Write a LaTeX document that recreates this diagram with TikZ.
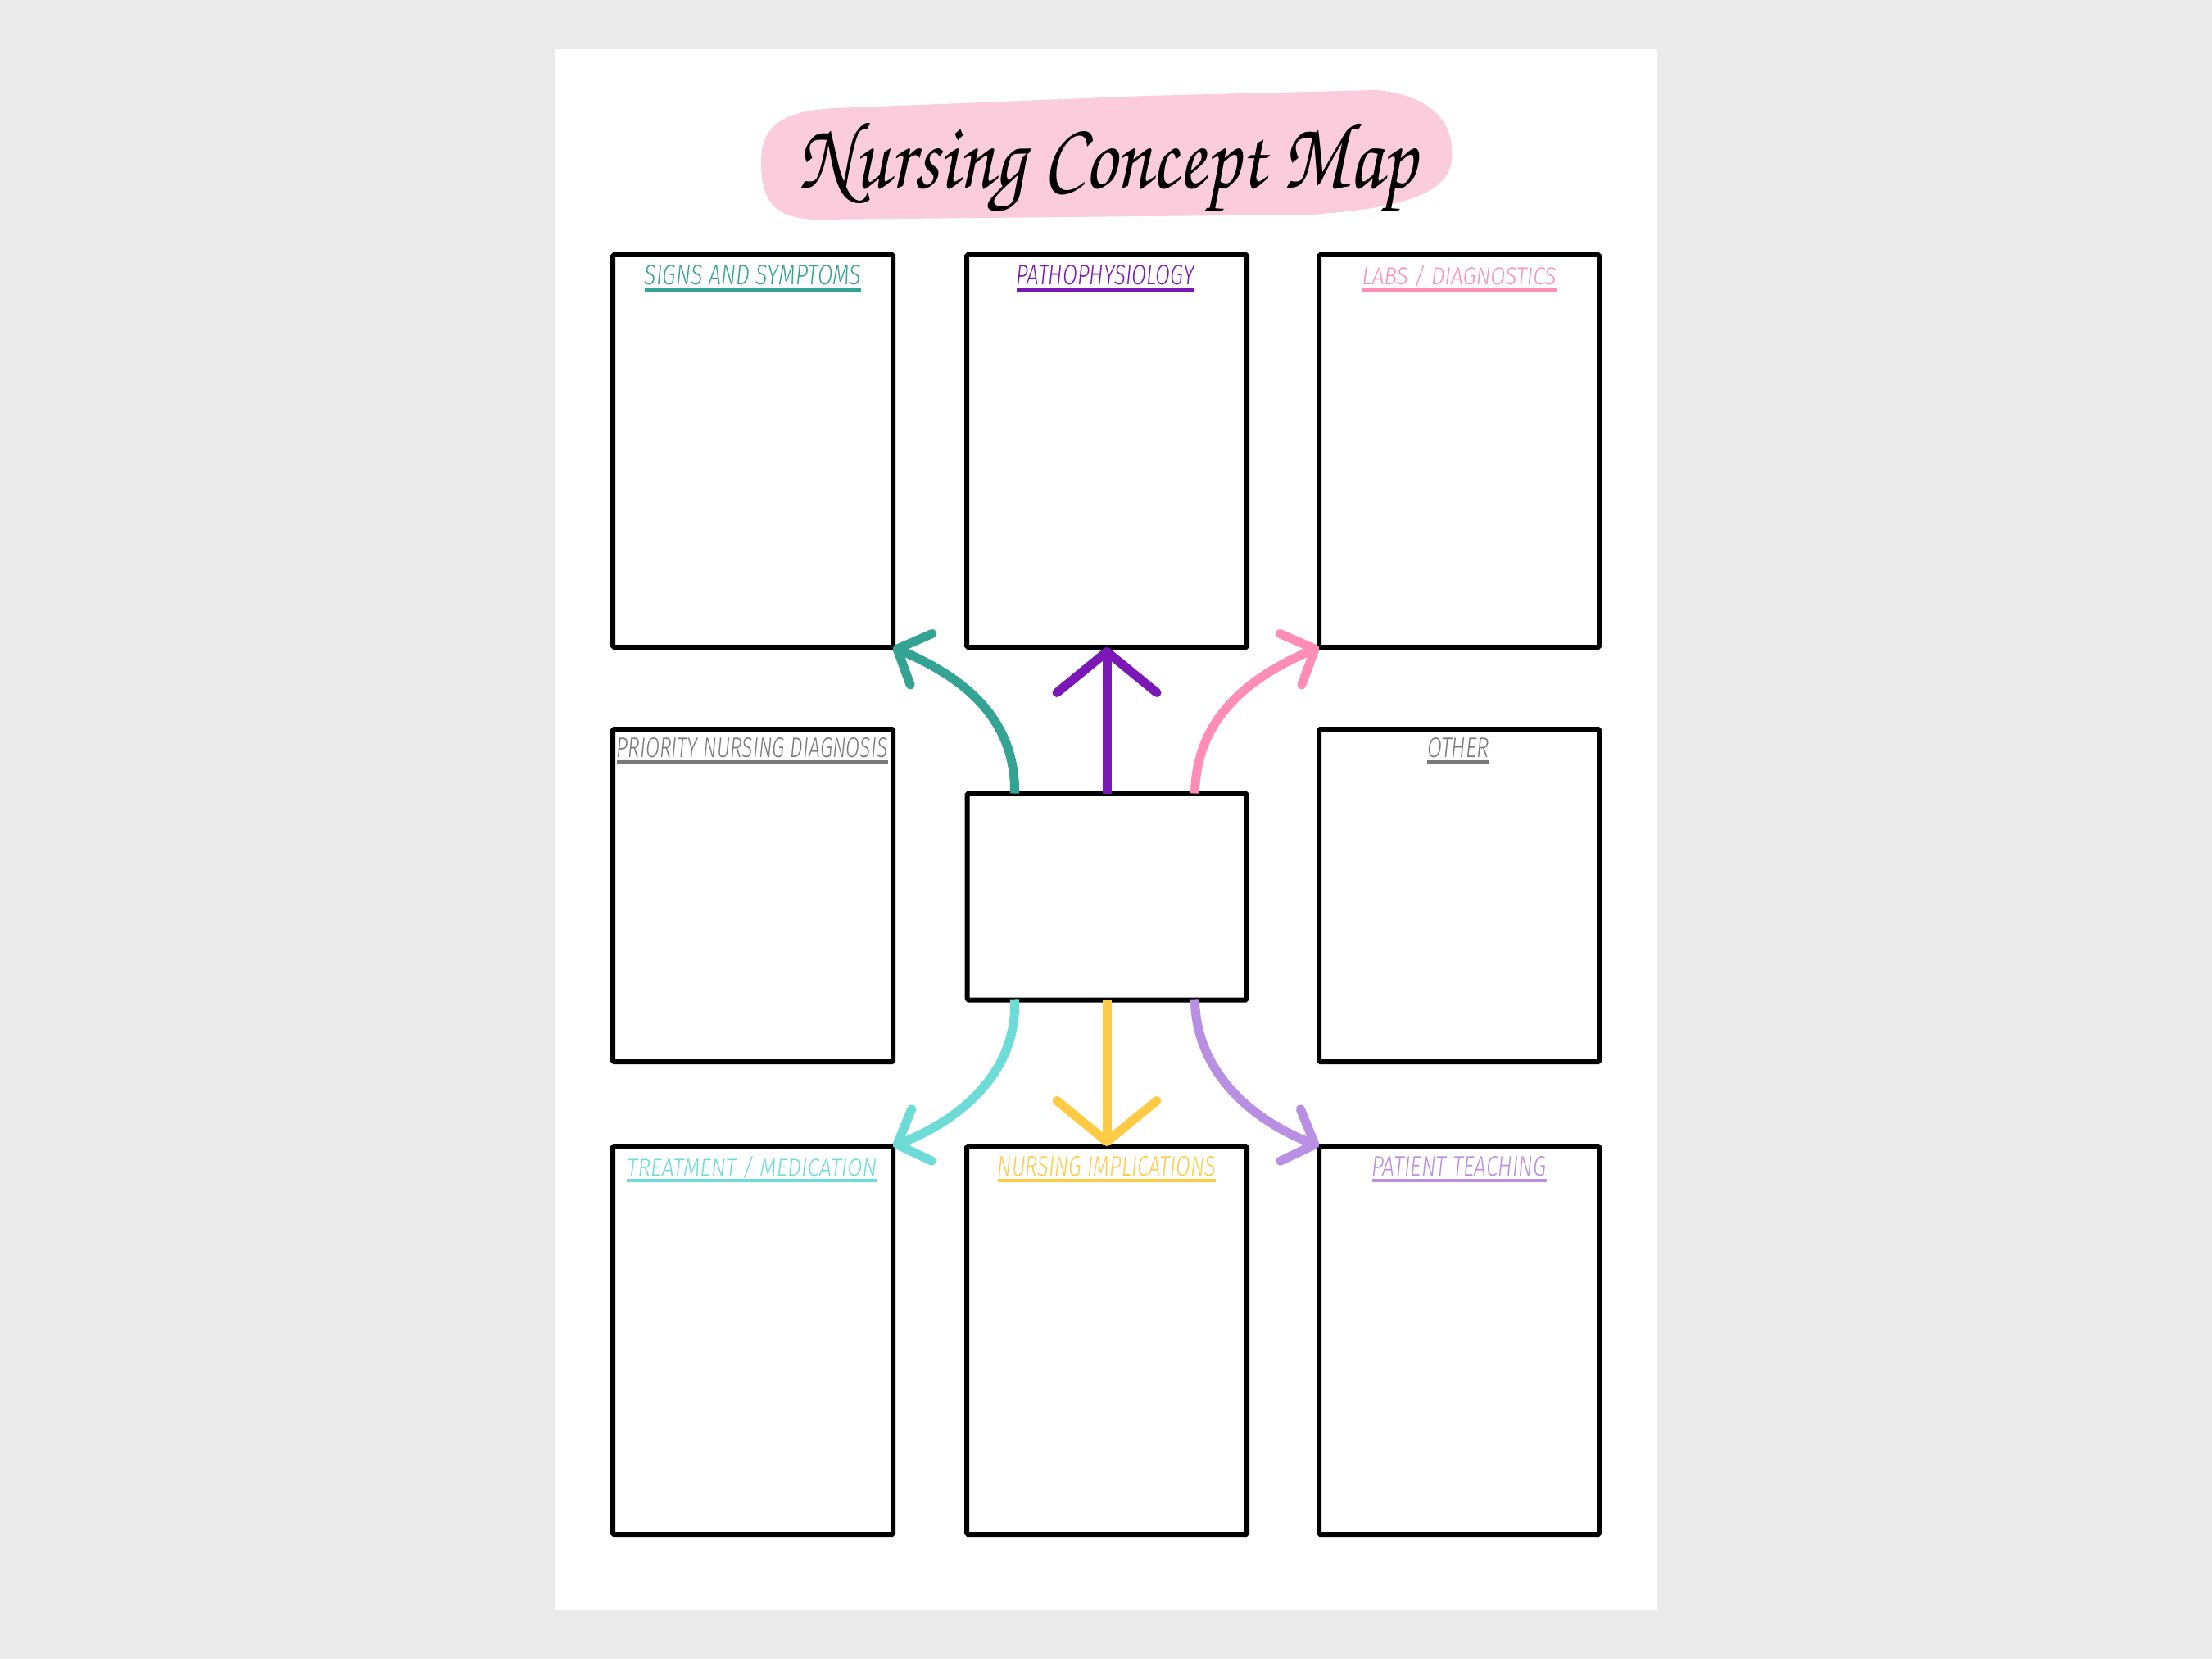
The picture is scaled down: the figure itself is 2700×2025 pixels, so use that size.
\documentclass[tikz,border=0pt]{standalone}
\usepackage[T1]{fontenc}
\usepackage{fontspec}
\usepackage{graphicx}
\usetikzlibrary{arrows.meta,calc}
\IfFontExistsTF{Fira Sans Light Italic}{\newfontfamily\headfont{Fira Sans Light Italic}}{\newfontfamily\headfont[FakeSlant=0.18]{Fira Sans}}
\definecolor{bgc}{HTML}{EAEAEA}
\definecolor{blobpink}{HTML}{FACCDC}
\definecolor{cteal}{HTML}{35A393}
\definecolor{cpurple}{HTML}{7B16B7}
\definecolor{cpink}{HTML}{FF8DB5}
\definecolor{cgray}{HTML}{7A7A7A}
\definecolor{ccyan}{HTML}{6DDCD7}
\definecolor{cyellow}{HTML}{FFCB45}
\definecolor{clav}{HTML}{B98FE3}
\newcommand\hdg[6]{%
  \node[hd,text=#5] (#1) at (#2,#3) {\resizebox{#4pt}{24pt}{\headfont #6}};
  \draw[#5,line width=4pt] ($(#1.base west)+(0,6)$) -- ($(#1.base east)+(0,6)$);}
\begin{document}
\begin{tikzpicture}[x=1pt,y=-1pt,
  mapbox/.style={draw=black,line width=6pt,rectangle,outer sep=0pt,inner sep=0pt,fill=white,rounded corners=1.5pt},
  hd/.style={anchor=base,inner sep=0pt,outer sep=0pt},
  arr/.style={line width=11pt},
  bigtip/.style={-{Straight Barb[length=50pt,width=122pt,round]}},
  curvetip/.style={-{Straight Barb[length=32pt,width=68pt,round]}}]
\fill[bgc] (0,0) rectangle (2700,2025);
\useasboundingbox (0,0) rectangle (2700,2025);
\fill[white] (677,60) rectangle (2023,1965);
% title blob
\fill[blobpink] (929,200) .. controls (928,150) and (960,135) .. (1020,132)
  -- (1400,117) -- (1680,110) .. controls (1760,118) and (1775,160) .. (1772,195)
  .. controls (1768,240) and (1700,255) .. (1600,262) -- (1000,268)
  .. controls (940,268) and (930,240) .. (929,200) -- cycle;
\node[anchor=base,inner sep=0pt] (title) at (1352,230)
  {\resizebox{754pt}{83pt}{\usefont{T1}{pzc}{mb}{it}Nursing Concept Map}};
% boxes
\node[mapbox,minimum width=342pt,minimum height=479pt] (b1) at (919,550.5) {};
\node[mapbox,minimum width=342pt,minimum height=479pt] (b2) at (1351,550.5) {};
\node[mapbox,minimum width=342pt,minimum height=479pt] (b3) at (1781,550.5) {};
\node[mapbox,minimum width=342pt,minimum height=406pt] (b4) at (919,1093) {};
\node[mapbox,minimum width=341pt,minimum height=252pt] (c) at (1351,1094.5) {};
\node[mapbox,minimum width=342pt,minimum height=406pt] (b6) at (1781,1093) {};
\node[mapbox,minimum width=342pt,minimum height=474pt] (b7) at (919,1636) {};
\node[mapbox,minimum width=342pt,minimum height=474pt] (b8) at (1351,1636) {};
\node[mapbox,minimum width=342pt,minimum height=474pt] (b9) at (1781,1636) {};
% headings
\hdg{h1}{919}{348}{264}{cteal}{SIGNS AND SYMPTOMS}
\hdg{h2}{1349}{348}{217}{cpurple}{PATHOPHYSIOLOGY}
\hdg{h3}{1781}{348}{237}{cpink}{LABS / DIAGNOSTICS}
\hdg{h4}{918}{924}{331}{cgray}{PRIORITY NURSING DIAGNOSIS}
\hdg{h6}{1780}{924}{76}{cgray}{OTHER}
\hdg{h7}{918}{1435}{305}{ccyan}{TREATMENT / MEDICATION}
\hdg{h8}{1351}{1435}{266}{cyellow}{NURSING IMPLICATIONS}
\hdg{h9}{1781}{1435}{213}{clav}{PATIENT TEACHING}
% arrows
\draw[arr,cpurple,bigtip] (c.north) -- (b2.south);
\draw[arr,cyellow,bigtip] (c.south) -- (b8.north);
\draw[arr,cteal,curvetip] ([xshift=58pt]c.north west) .. controls (1240,870) and (1165,822) .. (b1.south east);
\draw[arr,cpink,curvetip] ([xshift=-63pt]c.north east) .. controls (1460,870) and (1535,822) .. (b3.south west);
\draw[arr,ccyan,curvetip] ([xshift=58pt]c.south west) .. controls (1242,1310) and (1170,1368) .. (b7.north east);
\draw[arr,clav,curvetip] ([xshift=-63pt]c.south east) .. controls (1460,1310) and (1530,1368) .. (b9.north west);
\end{tikzpicture}
\end{document}
